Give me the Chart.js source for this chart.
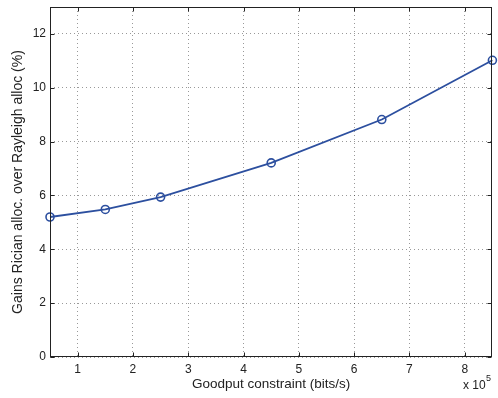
<!DOCTYPE html>
<html><head><meta charset="utf-8">
<script src="https://cdn.jsdelivr.net/npm/chart.js@4/dist/chart.umd.min.js"></script>
<style>html,body{margin:0;padding:0;background:#fff}#wrap{width:498px;height:398px}</style>
</head><body><div id="wrap"><canvas id="c" width="498" height="398"></canvas></div>
<script>
const goodput = [0.5, 1.5, 2.5, 4.5, 6.5, 8.5];
const gains = [5.2, 5.48, 5.94, 7.21, 8.82, 11.02];
const xTicks = [1, 2, 3, 4, 5, 6, 7, 8];
const yTicks = [0, 2, 4, 6, 8, 10, 12];
const FONT = 'Liberation Sans, Arial, sans-serif';
const LINE = '#2c4f9f';

const boxPlugin = {
  id: 'box',
  afterDraw(chart) {
    const {ctx, chartArea: a, scales} = chart;
    ctx.save();
    ctx.strokeStyle = '#222';
    ctx.lineWidth = 1;
    const L = Math.round(a.left) + 0.5, R = Math.round(a.right) - 0.5;
    const T = Math.round(a.top) + 0.5, B = Math.round(a.bottom) - 0.5;
    ctx.strokeRect(L, T, R - L, B - T);
    ctx.beginPath();
    const tl = 4;
    xTicks.forEach(v => {
      const x = Math.round(scales.x.getPixelForValue(v)) + 0.5;
      ctx.moveTo(x, B); ctx.lineTo(x, B - tl);
      ctx.moveTo(x, T); ctx.lineTo(x, T + tl);
    });
    yTicks.forEach(v => {
      const y = Math.round(scales.y.getPixelForValue(v)) + 0.5;
      ctx.moveTo(L, y); ctx.lineTo(L + tl, y);
      ctx.moveTo(R, y); ctx.lineTo(R - tl, y);
    });
    ctx.stroke();
    ctx.fillStyle = '#222';
    ctx.font = '12px ' + FONT;
    ctx.textBaseline = 'alphabetic';
    ctx.textAlign = 'left';
    ctx.fillText('x 10', 463, 389);
    ctx.font = '9px ' + FONT;
    ctx.fillText('5', 486, 381);
    ctx.restore();
  }
};

new Chart(document.getElementById('c'), {
  type: 'line',
  data: {
    datasets: [{
      data: goodput.map((x, i) => ({x, y: gains[i]})),
      borderColor: LINE,
      borderWidth: 1.8,
      pointStyle: 'circle',
      pointRadius: 4,
      pointBorderWidth: 1.6,
      pointBorderColor: LINE,
      pointBackgroundColor: 'rgba(0,0,0,0)',
      tension: 0,
      clip: false
    }]
  },
  options: {
    responsive: false,
    animation: false,
    devicePixelRatio: 1,
    plugins: {legend: {display: false}, tooltip: {enabled: false}},
    layout: {padding: {top: 7, right: 5, left: 0, bottom: 0}},
    scales: {
      x: {
        type: 'linear', min: 0.5, max: 8.5,
        afterBuildTicks(s) { s.ticks = xTicks.map(v => ({value: v})); },
        afterFit(s) { s.height = 41; s.paddingLeft = 0; s.paddingRight = 0; },
        grid: {color: 'rgba(0,0,0,0.4)', lineWidth: 1, drawTicks: false},
        border: {display: false, dash: [1, 3]},
        ticks: {color: '#222', font: {family: FONT, size: 12}, padding: 5, maxRotation: 0},
        title: {display: true, text: 'Goodput constraint (bits/s)', color: '#222', font: {family: FONT, size: 13.5}, padding: {top: 0, bottom: 6}}
      },
      y: {
        type: 'linear', min: 0, max: 13,
        afterBuildTicks(s) { s.ticks = yTicks.map(v => ({value: v})); },
        afterFit(s) { s.width = 50; s.paddingTop = 0; s.paddingBottom = 0; },
        grid: {color: 'rgba(0,0,0,0.4)', lineWidth: 1, drawTicks: false},
        border: {display: false, dash: [1, 3]},
        ticks: {color: '#222', font: {family: FONT, size: 12}, padding: 4},
        title: {display: true, text: 'Gains Rician alloc. over Rayleigh alloc (%)', color: '#222', font: {family: FONT, size: 14}, padding: {top: 10, bottom: 0}}
      }
    }
  },
  plugins: [boxPlugin]
});
</script>
</body></html>
